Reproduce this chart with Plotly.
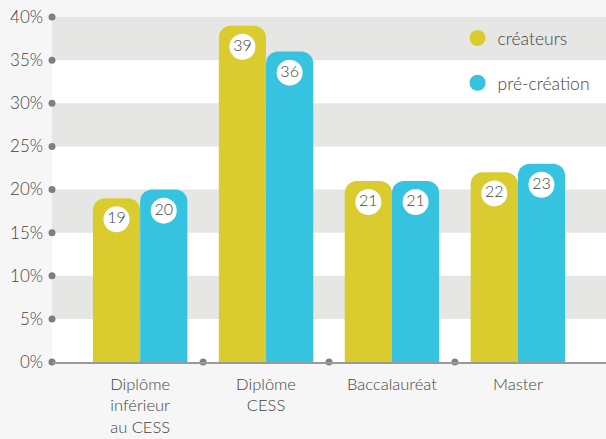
import plotly.graph_objects as go

categories = ["Diplôme<br>inférieur<br>au CESS", "Diplôme<br>CESS", "Baccalauréat", "Master"]
createurs = [19, 39, 21, 22]
pre_creation = [20, 36, 21, 23]
series_names = ["créateurs", "pré-création"]
series_values = [createurs, pre_creation]
colors = ["#dacb2f", "#35c3e0"]
y_tickvals = [0, 5, 10, 15, 20, 25, 30, 35, 40]
y_ticktext = [f"{v}%" for v in y_tickvals]

BARGAP = 0.25
XRANGE = [-0.7, 3.7]
LABEL_OFFSET = 2.45  # data units below bar top
FONT = "Lato"
TEXT = "#444444"
DOT = "#7d8083"

n = len(categories)
xs = list(range(n))
bar_w = (1 - BARGAP) / len(series_values)

fig = go.Figure()

# background bands
for i in range(len(y_tickvals) - 1):
    if (len(y_tickvals) - 2 - i) % 2 == 0:
        fig.add_shape(type="rect", xref="paper", yref="y", x0=0, x1=1,
                      y0=y_tickvals[i], y1=y_tickvals[i + 1],
                      fillcolor="#e6e7e5", line_width=0, layer="below")

for k, (name, vals, col) in enumerate(zip(series_names, series_values, colors)):
    fig.add_trace(go.Bar(x=xs, y=vals, name=name, marker_color=col,
                         marker_line_width=0, showlegend=False, hoverinfo="skip"))

for k, (name, vals, col) in enumerate(zip(series_names, series_values, colors)):
    off = (k - (len(series_values) - 1) / 2) * bar_w
    fig.add_trace(go.Scatter(
        x=[x + off for x in xs], y=[v - LABEL_OFFSET for v in vals],
        mode="markers+text", text=[str(v) for v in vals],
        textposition="middle center",
        textfont=dict(family=FONT, size=16, color=TEXT, weight=300),
        marker=dict(color="white", size=26, line_width=0),
        showlegend=False, hoverinfo="skip"))

# legend entries
for name, col in zip(series_names, colors):
    fig.add_trace(go.Scatter(x=[None], y=[None], mode="markers", name=name,
                             legendgroup=name,
                             marker=dict(color=col, size=18, symbol="circle")))

# axis dots
fig.add_trace(go.Scatter(
    x=[XRANGE[0]] * len(y_tickvals) + [x + 0.5 for x in xs[:-1]],
    y=y_tickvals + [0] * (n - 1),
    mode="markers", marker=dict(color=DOT, size=7),
    cliponaxis=False, showlegend=False, hoverinfo="skip"))

fig.update_layout(
    width=606, height=439,
    margin=dict(l=52, r=0, t=17, b=77, autoexpand=False),
    paper_bgcolor="#f6f6f6", plot_bgcolor="white",
    barmode="group", bargap=BARGAP, bargroupgap=0, barcornerradius=12,
    font=dict(family=FONT, size=17, color=TEXT, weight=300),
    legend=dict(x=0.732, y=0.991, xanchor="left", yanchor="top",
                bgcolor="rgba(0,0,0,0)", tracegroupgap=19,
                font=dict(family=FONT, size=17.5, color=TEXT, weight=300)),
    xaxis=dict(range=XRANGE, tickvals=xs, ticktext=categories, showgrid=False,
               zeroline=False, showline=True, linecolor="#9a9a9a", linewidth=2,
               ticks="", ticklabelstandoff=6, fixedrange=True, automargin=False,
               tickfont=dict(family=FONT, size=16.5, color=TEXT, weight=300)),
    yaxis=dict(range=[0, 40], tickvals=y_tickvals, ticktext=y_ticktext,
               showgrid=False, zeroline=False, showline=False, ticks="",
               ticklabelstandoff=8, fixedrange=True, automargin=False),
)

fig.write_html("out.html", config={"displayModeBar": False},
               post_script="document.body.style.margin='0';")
